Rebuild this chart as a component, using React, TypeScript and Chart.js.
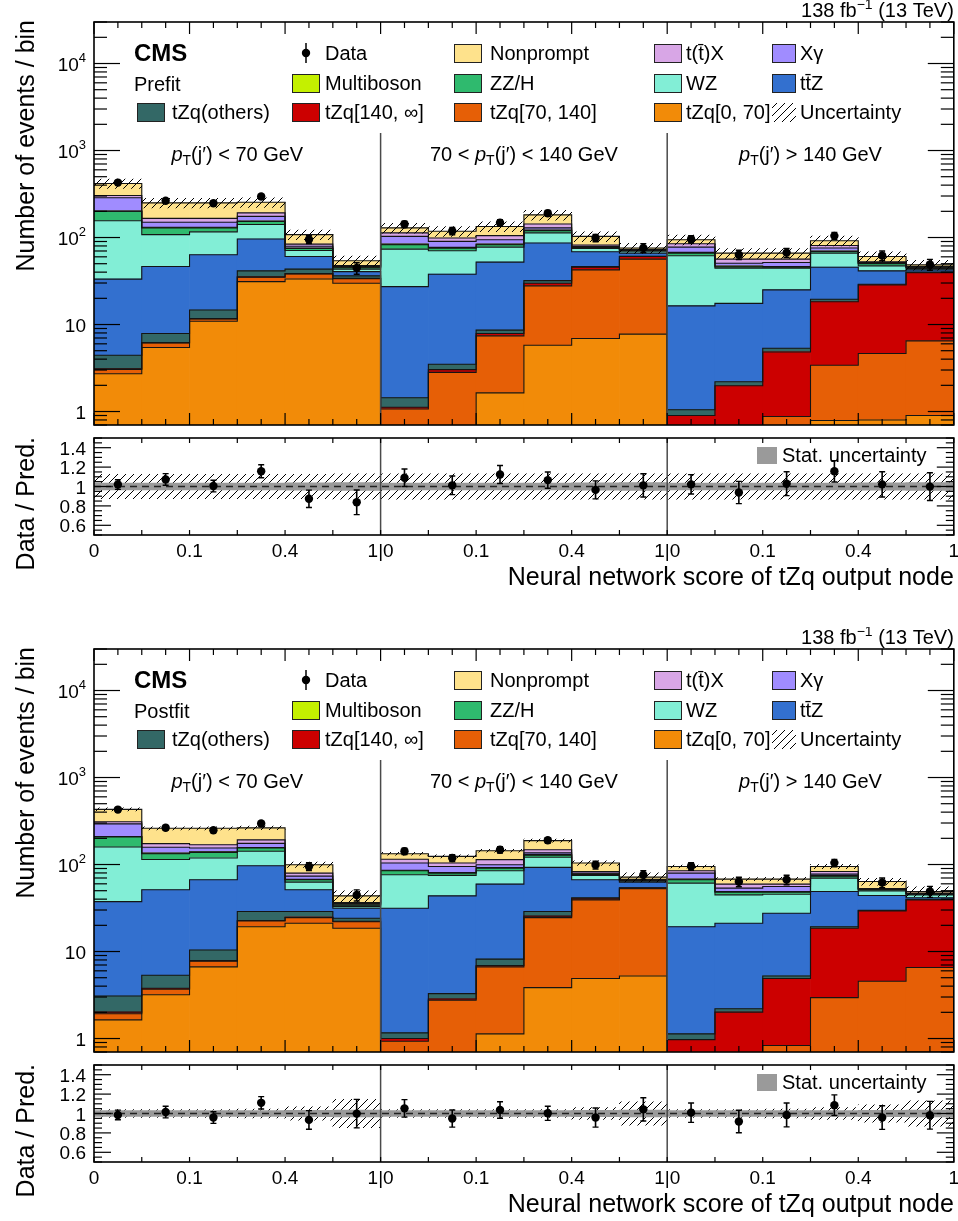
import React, { useEffect, useRef } from 'react';
import { Chart, registerables } from 'chart.js';

Chart.register(...registerables);

const FONT = '"Liberation Sans", Arial, Helvetica, sans-serif';
Chart.defaults.font.family = FONT;

// ---------------- data ----------------
const binCenters = [0.5, 1.5, 2.5, 3.5, 4.5, 5.5, 6.5, 7.5, 8.5, 9.5, 10.5, 11.5, 12.5, 13.5, 14.5, 15.5, 16.5, 17.5];
const binLowEdges = [0, 1, 2, 3, 4, 5, 6, 7, 8, 9, 10, 11, 12, 13, 14, 15, 16, 17];
const lastEdge = 18;
const regionEdges = [6, 12];
const regionCenters = [3, 9, 15];
const xTickPositions = [0, 2, 4, 6, 8, 10, 12, 14, 16, 18];
const xTickLabels = ['0', '0.1', '0.4', '1|0', '0.1', '0.4', '1|0', '0.1', '0.4', '1'];
const logTickExponents = [0, 1, 2, 3, 4];
const ratioTickValues = [0.6, 0.8, 1, 1.2, 1.4];
const ratioTickLabels = ['0.6', '0.8', '1', '1.2', '1.4'];

const processNames = ['tZq[0, 70]', 'tZq[70, 140]', 'tZq[140, \u221e]', 'tZq(others)', 'tt\u0304Z', 'WZ', 'ZZ/H', 'Multiboson', 'X\u03b3', 't(t\u0304)X', 'Nonprompt'];
const processColors = ['#f28b08', '#e65f06', '#cc0000', '#336866', '#3370cf', '#82eed6', '#2fba6e', '#c4f000', '#a08cff', '#d8a6e6', '#fee28c'];

const dataCounts = [428, 265, 248, 296, 95, 44.6, 142, 119, 148, 190, 99, 76, 95.5, 63.5, 67, 104.5, 62, 49];

// prefit
const preTZq0 = [2.72, 5.44, 10.9, 31.1, 33.4, 29.8, 0.45, 0.4, 1.64, 5.78, 6.9, 7.75, 0.15, 0.2, 0.3, 0.79, 0.8, 0.9];
const preTZq70 = [0.33, 0.71, 0.7, 3.9, 4.8, 3.9, 0.62, 2.42, 5.77, 22, 35.6, 48.75, 0.3, 0.2, 0.575, 2.61, 3.84, 5.59];
const preTZq140 = [0.05, 0.05, 0.1, 0.3, 0.3, 0.3, 0.05, 0.21, 0.48, 2, 3.1, 4, 0.45, 1.58, 3.965, 14.9, 23.86, 33.01];
const preOthers = [1.33, 1.69, 3.0, 6.1, 4.8, 2.2, 0.32, 0.46, 0.72, 2.2, 0.7, 0.5, 0.15, 0.22, 0.5, 1.2, 0.5, 0.5];
const preTTZ = [28.8, 38.5, 48.6, 54.6, 17.2, 4.4, 25.8, 34.4, 43.5, 54.4, 22.2, 5.2, 15.35, 15.3, 19.66, 26.1, 12.4, 2.5];
const preWZ = [122.8, 61.6, 52.7, 45, 10.5, 2.7, 46.4, 32.5, 25.5, 26.6, 6.3, 3.3, 45.2, 27, 19.5, 20.6, 5.8, 1.4];
const preZZH = [44, 21, 13, 12, 3.8, 1.7, 9, 5.2, 5, 7, 1.7, 1.5, 4.6, 1.5, 1.1, 3, 2.8, 1.1];
const preMulti = [1, 2, 2, 2, 0.7, 0.5, 1.4, 1.4, 1.4, 2, 0.5, 0.5, 1.3, 1, 0.9, 0.8, 0.5, 0.5];
const preXg = [85, 19, 19, 20, 4, 1, 19, 13.2, 10.4, 7, 2, 0.7, 10.1, 3.7, 5.1, 5.7, 1, 0.5];
const preTX = [18, 16, 16, 17, 4.5, 1, 10, 8.5, 10.6, 14, 3, 0.8, 7.2, 5.7, 4.8, 5.3, 1, 0.5];
const preNP = [114, 84, 84, 62, 24, 6.5, 16, 19.3, 29, 39, 21, 2.7, 9.6, 9.8, 9.8, 10.8, 8, 2];

// postfit
const postTZq0 = [1.64, 3.19, 6.66, 19.3, 21.1, 18.5, 0.45, 0.4, 1.13, 3.85, 4.89, 5.24, 0.15, 0.2, 0.3, 0.5, 0.6, 0.7];
const postTZq70 = [0.29, 0.49, 1.09, 3.1, 3.4, 3.5, 0.48, 2.35, 5.53, 20.65, 34.3, 47.36, 0.25, 0.2, 0.53, 2.45, 3.95, 5.85];
const postTZq140 = [0.08, 0.1, 0.1, 0.3, 0.3, 0.3, 0.07, 0.1, 0.24, 1, 1.3, 0.9, 0.57, 1.61, 4.06, 15.55, 24.75, 32.65];
const postOthers = [1.07, 1.56, 2.55, 6.1, 4, 1.8, 0.16, 0.43, 1.27, 3.3, 1, 0.5, 0.16, 0.19, 0.35, 0.8, 0.5, 0.5];
const postTTZ = [34.4, 45.9, 56.3, 68.1, 22.4, 7.3, 30.24, 40.3, 51.3, 63.8, 25.2, 8.7, 18.17, 18.9, 22.26, 29.7, 14.2, 1.8];
const postWZ = [121.5, 62.8, 52.3, 45.1, 11.5, 1.4, 44.8, 31.4, 25.3, 28.4, 8.3, 1.8, 41.8, 23.7, 18.1, 20.8, 5.8, 3.3];
const postZZH = [49, 19, 19, 13, 4, 1.2, 8.6, 4.7, 6.2, 7, 2, 1, 5.6, 3.3, 2.5, 3.8, 1.7, 0.7];
const postMulti = [2, 2, 2, 2, 0.8, 0.5, 1.2, 1.3, 1.5, 2, 1, 0.5, 1.3, 0.9, 0.9, 0.9, 0.5, 0.5];
const postXg = [83, 23, 15, 18, 6.1, 1, 18, 14, 7, 6, 2, 0.5, 11.7, 4.5, 6.9, 3.1, 0.5, 0.5];
const postTX = [17, 16, 14, 17, 6.1, 1, 11, 9, 14.5, 12, 3, 1, 5.1, 6, 3.6, 5.6, 0.5, 0.5];
const postNP = [120, 87, 92, 72, 19.8, 7.1, 18, 20, 30, 40, 21, 4.1, 10.2, 8.5, 8.5, 11.8, 10.8, 2];

// ratio panels
const ratioPre = [1.02, 1.073, 1.005, 1.157, 0.873, 0.837, 1.09, 1.012, 1.124, 1.066, 0.965, 1.012, 1.022, 0.938, 1.029, 1.157, 1.022, 0.999];
const ratioErrPre = [0.05, 0.06, 0.06, 0.067, 0.09, 0.127, 0.09, 0.096, 0.093, 0.084, 0.093, 0.12, 0.1, 0.115, 0.123, 0.11, 0.13, 0.143];
const systPre = [0.125, 0.125, 0.125, 0.125, 0.125, 0.13, 0.13, 0.13, 0.13, 0.13, 0.13, 0.13, 0.13, 0.13, 0.13, 0.13, 0.13, 0.13];
const statPre = [0.035, 0.035, 0.035, 0.035, 0.037, 0.04, 0.035, 0.035, 0.035, 0.035, 0.037, 0.04, 0.035, 0.035, 0.035, 0.035, 0.037, 0.04];

const ratioPost = [0.985, 1.015, 0.958, 1.11, 0.934, 0.999, 1.053, 0.948, 1.036, 1.002, 0.958, 1.043, 1.009, 0.918, 0.985, 1.086, 0.958, 0.982];
const ratioErrPost = [0.05, 0.06, 0.06, 0.064, 0.096, 0.147, 0.09, 0.088, 0.085, 0.073, 0.098, 0.12, 0.1, 0.116, 0.123, 0.106, 0.122, 0.143];
const systPost = [0.04, 0.04, 0.04, 0.045, 0.07, 0.145, 0.04, 0.04, 0.04, 0.04, 0.06, 0.12, 0.04, 0.04, 0.045, 0.06, 0.09, 0.13];
const statPost = [0.03, 0.03, 0.03, 0.03, 0.033, 0.036, 0.03, 0.03, 0.03, 0.03, 0.033, 0.036, 0.03, 0.03, 0.03, 0.03, 0.033, 0.036];

const yMin = 0.7;
const yMax = 30000;
const rMin = 0.5;
const rMax = 1.5;

// legend layout: [column, process index or special]
const legendRows: any[] = [
  [{ col: 1, kind: 'data', label: 'Data' }, { col: 2, proc: 10 }, { col: 3, proc: 9 }, { col: 4, proc: 8 }],
  [{ col: 1, proc: 7 }, { col: 2, proc: 6 }, { col: 3, proc: 5 }, { col: 4, proc: 4 }],
  [{ col: 0, proc: 3 }, { col: 1, proc: 2 }, { col: 2, proc: 1 }, { col: 3, proc: 0 }, { col: 4, kind: 'unc', label: 'Uncertainty' }],
];
const legendBoxX = [137, 292, 454, 654, 772];
const legendBoxW = [28, 28, 28, 28, 24];
const legendTextX = [172, 325, 490, 686, 800];
const legendRowY = [53, 83, 112];

// ---------------- helpers ----------------
function makeHatch(ctx: CanvasRenderingContext2D) {
  const c = document.createElement('canvas');
  c.width = 8;
  c.height = 8;
  const g = c.getContext('2d') as CanvasRenderingContext2D;
  g.strokeStyle = '#000';
  g.lineWidth = 1;
  g.beginPath();
  g.moveTo(0, 8); g.lineTo(8, 0);
  g.moveTo(-1, 1); g.lineTo(1, -1);
  g.moveTo(7, 9); g.lineTo(9, 7);
  g.stroke();
  return ctx.createPattern(c, 'repeat') as CanvasPattern;
}

function seg(ctx: CanvasRenderingContext2D, x1: number, y1: number, x2: number, y2: number) {
  ctx.beginPath();
  ctx.moveTo(x1, y1);
  ctx.lineTo(x2, y2);
  ctx.stroke();
}

type Seg = { t: string; size: number; italic?: boolean; bold?: boolean; dy?: number };
function fontOf(s: Seg) {
  return `${s.italic ? 'italic ' : ''}${s.bold ? 'bold ' : ''}${s.size}px ${FONT}`;
}
function drawRich(ctx: CanvasRenderingContext2D, segs: Seg[], x: number, y: number, align: string) {
  const widths = segs.map((s) => { ctx.font = fontOf(s); return ctx.measureText(s.t).width; });
  const total = widths.reduce((a, b) => a + b, 0);
  let cx = align === 'left' ? x : align === 'center' ? x - total / 2 : x - total;
  ctx.textAlign = 'left';
  ctx.textBaseline = 'alphabetic';
  segs.forEach((s, i) => {
    ctx.font = fontOf(s);
    ctx.fillText(s.t, cx, y + (s.dy || 0));
    cx += widths[i];
  });
}

function drawCaps(chart: any, idx: number) {
  const { ctx, chartArea: a } = chart;
  const meta = chart.getDatasetMeta(idx);
  ctx.save();
  ctx.beginPath();
  ctx.rect(a.left, a.top, a.right - a.left, a.bottom - a.top);
  ctx.clip();
  ctx.strokeStyle = '#000';
  ctx.lineWidth = 1.4;
  meta.data.forEach((el: any) => {
    seg(ctx, el.x - 3, el.y, el.x + 3, el.y);
    seg(ctx, el.x - 3, el.base, el.x + 3, el.base);
  });
  ctx.restore();
}

const regionText: Seg[][] = [
  [{ t: 'p', size: 20, italic: true }, { t: 'T', size: 14, dy: 4 }, { t: '(j\u2032) < 70 GeV', size: 20 }],
  [{ t: '70 < ', size: 20 }, { t: 'p', size: 20, italic: true }, { t: 'T', size: 14, dy: 4 }, { t: '(j\u2032) < 140 GeV', size: 20 }],
  [{ t: 'p', size: 20, italic: true }, { t: 'T', size: 14, dy: 4 }, { t: '(j\u2032) > 140 GeV', size: 20 }],
];

// ---------------- main panel ----------------
function buildMain(canvas: HTMLCanvasElement, comps: number[][], ratio: number[], ratioErr: number[], syst: number[], fitLabel: string) {
  const ctx = canvas.getContext('2d') as CanvasRenderingContext2D;
  const hatch = makeHatch(ctx);
  const cum: number[][] = [];
  comps.forEach((c, k) => cum.push(c.map((v, i) => v + (k > 0 ? cum[k - 1][i] : 0))));
  const total = cum[cum.length - 1];
  const datasets: any[] = [];
  comps.forEach((c, k) => datasets.push({
    type: 'bar', label: processNames[k],
    data: c.map((v, i) => ({ x: binCenters[i], y: v })),
    backgroundColor: processColors[k], borderWidth: 0, yAxisID: 'y', grouped: false,
    barPercentage: 1, categoryPercentage: 1, order: 20,
  }));
  cum.forEach((c) => datasets.push({
    type: 'line',
    data: c.map((v, i) => ({ x: binLowEdges[i], y: v })).concat([{ x: lastEdge, y: c[c.length - 1] }]),
    stepped: 'before', borderColor: '#141414', borderWidth: 1.1, pointRadius: 0, fill: false,
    yAxisID: 'yL', order: 10,
  }));
  datasets.push({
    type: 'bar',
    data: total.map((t, i) => ({ x: binCenters[i], y: [t * (1 - syst[i]), t * (1 + syst[i])] })),
    backgroundColor: hatch, borderWidth: 0, yAxisID: 'yL', grouped: false,
    barPercentage: 1, categoryPercentage: 1, order: 5,
  });
  const errIdx = datasets.length;
  datasets.push({
    type: 'bar',
    data: dataCounts.map((d, i) => { const e = (d * ratioErr[i]) / ratio[i]; return { x: binCenters[i], y: [d - e, d + e] }; }),
    backgroundColor: '#000', borderWidth: 0, maxBarThickness: 1.6, yAxisID: 'yL', grouped: false, order: 2,
  });
  datasets.push({
    type: 'line',
    data: dataCounts.map((d, i) => ({ x: binCenters[i], y: d })),
    showLine: false, pointRadius: 4.2, pointBackgroundColor: '#000', pointBorderWidth: 0,
    yAxisID: 'yL', order: 1,
  });

  const decor = {
    id: 'mainDecor',
    afterDatasetsDraw(chart: any) {
      const { ctx: c, chartArea: a } = chart;
      const xs = chart.scales.x;
      const ys = chart.scales.y;
      drawCaps(chart, errIdx);
      c.save();
      // region dividers
      c.strokeStyle = '#4a4a4a';
      c.lineWidth = 1.5;
      regionEdges.forEach((b) => { const px = xs.getPixelForValue(b); seg(c, px, a.top + 111, px, a.bottom); });
      // frame
      c.strokeStyle = '#000';
      c.lineWidth = 1.6;
      c.strokeRect(a.left, a.top, a.right - a.left, a.bottom - a.top);
      // y ticks
      c.lineWidth = 1.2;
      for (let e = -1; e <= 4; e++) {
        for (let m = 1; m <= 9; m++) {
          const v = m * Math.pow(10, e);
          if (v < ys.min || v > ys.max) continue;
          const py = ys.getPixelForValue(v);
          const len = m === 1 ? 26 : 13;
          seg(c, a.left, py, a.left + len, py);
          seg(c, a.right, py, a.right - len, py);
        }
      }
      // x ticks
      for (let i = 0; i <= 36; i++) {
        const px = xs.getPixelForValue(i / 2);
        const len = i % 4 === 0 ? 12 : 6;
        seg(c, px, a.bottom, px, a.bottom - len);
        seg(c, px, a.top, px, a.top + len);
      }
      c.fillStyle = '#000';
      // y labels
      logTickExponents.forEach((e) => {
        const py = ys.getPixelForValue(Math.pow(10, e));
        const rx = a.left - 8;
        if (e < 2) {
          drawRich(c, [{ t: e === 0 ? '1' : '10', size: 19 }], rx, py + 7, 'right');
        } else {
          drawRich(c, [{ t: '10', size: 19 }, { t: String(e), size: 13, dy: -9 }], rx, py + 7, 'right');
        }
      });
      // y title
      c.save();
      c.translate(27, a.top - 2);
      c.rotate(-Math.PI / 2);
      c.font = `25px ${FONT}`;
      c.textAlign = 'right';
      c.textBaseline = 'middle';
      c.fillText('Number of events / bin', 0, 0);
      c.restore();
      // lumi
      drawRich(c, [{ t: '138 fb', size: 20 }, { t: '\u22121', size: 14, dy: -8 }, { t: ' (13 TeV)', size: 20 }], a.right, 17, 'right');
      // CMS + fit label
      drawRich(c, [{ t: 'CMS', size: 24, bold: true }], 134, 61, 'left');
      drawRich(c, [{ t: fitLabel, size: 20 }], 134, 91, 'left');
      // region labels
      regionCenters.forEach((rc, r) => drawRich(c, regionText[r], xs.getPixelForValue(rc), a.top + 139, 'center'));
      // legend
      legendRows.forEach((row: any[], ri: number) => {
        const cy = legendRowY[ri];
        row.forEach((it: any) => {
          const bx = legendBoxX[it.col];
          const bw = legendBoxW[it.col];
          const label = it.label || processNames[it.proc];
          if (it.kind === 'data') {
            c.fillStyle = '#000';
            c.strokeStyle = '#000';
            c.lineWidth = 1.5;
            seg(c, bx + 14, cy - 10, bx + 14, cy + 10);
            c.beginPath();
            c.arc(bx + 14, cy, 4.2, 0, Math.PI * 2);
            c.fill();
          } else if (it.kind === 'unc') {
            c.fillStyle = hatch;
            c.fillRect(bx, cy - 9, bw, 19);
          } else {
            c.fillStyle = processColors[it.proc];
            c.fillRect(bx, cy - 9, bw, 19);
            c.strokeStyle = '#222';
            c.lineWidth = 1;
            c.strokeRect(bx + 0.5, cy - 8.5, bw - 1, 18);
          }
          c.fillStyle = '#000';
          drawRich(c, [{ t: label, size: 20 }], legendTextX[it.col], cy + 7, 'left');
        });
      });
      c.restore();
    },
  };

  return new Chart(ctx, {
    type: 'bar',
    data: { datasets },
    options: {
      responsive: false,
      animation: false,
      devicePixelRatio: 1,
      events: [],
      layout: { padding: { left: 94, right: 2, top: 22, bottom: 7 } },
      plugins: { legend: { display: false }, tooltip: { enabled: false } },
      scales: {
        x: { type: 'linear', min: 0, max: 18, offset: false, display: false, ticks: { stepSize: 1 } },
        y: { type: 'logarithmic', min: yMin, max: yMax, stacked: true, display: false },
        yL: { type: 'logarithmic', min: yMin, max: yMax, stacked: false, display: false },
      },
    } as any,
    plugins: [decor],
  } as any);
}

// ---------------- ratio panel ----------------
function buildRatio(canvas: HTMLCanvasElement, ratio: number[], ratioErr: number[], syst: number[], stat: number[]) {
  const ctx = canvas.getContext('2d') as CanvasRenderingContext2D;
  const hatch = makeHatch(ctx);
  const datasets: any[] = [];
  datasets.push({
    type: 'bar', data: syst.map((u, i) => ({ x: binCenters[i], y: [1 - u, 1 + u] })),
    backgroundColor: hatch, borderWidth: 0, grouped: false, barPercentage: 1, categoryPercentage: 1, order: 6,
  });
  datasets.push({
    type: 'bar', data: stat.map((u, i) => ({ x: binCenters[i], y: [1 - u, 1 + u] })),
    backgroundColor: '#9a9a9a', borderWidth: 0, grouped: false, barPercentage: 1, categoryPercentage: 1, order: 5,
  });
  datasets.push({
    type: 'line', data: [{ x: 0, y: 1 }, { x: lastEdge, y: 1 }],
    borderColor: '#222', borderWidth: 1.6, borderDash: [7, 5], pointRadius: 0, fill: false, order: 4,
  });
  const errIdx = datasets.length;
  datasets.push({
    type: 'bar', data: ratio.map((r, i) => ({ x: binCenters[i], y: [r - ratioErr[i], r + ratioErr[i]] })),
    backgroundColor: '#000', borderWidth: 0, maxBarThickness: 1.6, grouped: false, order: 2,
  });
  datasets.push({
    type: 'line', data: ratio.map((r, i) => ({ x: binCenters[i], y: r })),
    showLine: false, pointRadius: 4.2, pointBackgroundColor: '#000', pointBorderWidth: 0, order: 1,
  });

  const decor = {
    id: 'ratioDecor',
    afterDatasetsDraw(chart: any) {
      const { ctx: c, chartArea: a } = chart;
      const xs = chart.scales.x;
      const ys = chart.scales.y;
      drawCaps(chart, errIdx);
      c.save();
      c.strokeStyle = '#4a4a4a';
      c.lineWidth = 1.5;
      regionEdges.forEach((b) => { const px = xs.getPixelForValue(b); seg(c, px, a.top, px, a.bottom); });
      c.strokeStyle = '#000';
      c.lineWidth = 1.6;
      c.strokeRect(a.left, a.top, a.right - a.left, a.bottom - a.top);
      c.lineWidth = 1.2;
      for (let k = 10; k <= 30; k++) {
        const v = k * 0.05;
        const py = ys.getPixelForValue(v);
        const len = k % 4 === 0 ? 17 : 8;
        seg(c, a.left, py, a.left + len, py);
        seg(c, a.right, py, a.right - len, py);
      }
      for (let i = 0; i <= 18; i++) {
        const px = xs.getPixelForValue(i);
        seg(c, px, a.bottom, px, a.bottom - 5);
        seg(c, px, a.top, px, a.top + 5);
      }
      c.fillStyle = '#000';
      ratioTickValues.forEach((v, i) => drawRich(c, [{ t: ratioTickLabels[i], size: 19 }], a.left - 8, ys.getPixelForValue(v) + 7, 'right'));
      xTickPositions.forEach((p, i) => drawRich(c, [{ t: xTickLabels[i], size: 19 }], xs.getPixelForValue(p), a.bottom + 22, 'center'));
      // titles
      c.save();
      c.translate(27, a.top - 1);
      c.rotate(-Math.PI / 2);
      c.font = `25px ${FONT}`;
      c.textAlign = 'right';
      c.textBaseline = 'middle';
      c.fillText('Data / Pred.', 0, 0);
      c.restore();
      drawRich(c, [{ t: 'Neural network score of tZq output node', size: 25 }], a.right, a.bottom + 50, 'right');
      // stat legend
      c.fillStyle = '#9a9a9a';
      c.fillRect(757, a.top + 9, 20, 17);
      c.fillStyle = '#000';
      drawRich(c, [{ t: 'Stat. uncertainty', size: 20 }], 782, a.top + 24, 'left');
      c.restore();
    },
  };

  return new Chart(ctx, {
    type: 'bar',
    data: { datasets },
    options: {
      responsive: false,
      animation: false,
      devicePixelRatio: 1,
      events: [],
      layout: { padding: { left: 94, right: 2, top: 6, bottom: 57 } },
      plugins: { legend: { display: false }, tooltip: { enabled: false } },
      scales: {
        x: { type: 'linear', min: 0, max: 18, offset: false, display: false, ticks: { stepSize: 1 } },
        y: { type: 'linear', min: rMin, max: rMax, display: false },
      },
    } as any,
    plugins: [decor],
  } as any);
}

// ---------------- components ----------------
function Group(props: { top: number; comps: number[][]; ratio: number[]; ratioErr: number[]; syst: number[]; stat: number[]; fitLabel: string }) {
  const mainRef = useRef<HTMLCanvasElement>(null);
  const ratioRef = useRef<HTMLCanvasElement>(null);
  useEffect(() => {
    const c1 = buildMain(mainRef.current as HTMLCanvasElement, props.comps, props.ratio, props.ratioErr, props.syst, props.fitLabel);
    const c2 = buildRatio(ratioRef.current as HTMLCanvasElement, props.ratio, props.ratioErr, props.syst, props.stat);
    return () => { c1.destroy(); c2.destroy(); };
  }, []);
  return (
    <>
      <canvas ref={mainRef} width={958} height={432} style={{ position: 'absolute', left: 0, top: props.top, width: 958, height: 432 }} />
      <canvas ref={ratioRef} width={958} height={160} style={{ position: 'absolute', left: 0, top: props.top + 432, width: 958, height: 160 }} />
    </>
  );
}

export default function App() {
  const preComps = [preTZq0, preTZq70, preTZq140, preOthers, preTTZ, preWZ, preZZH, preMulti, preXg, preTX, preNP];
  const postComps = [postTZq0, postTZq70, postTZq140, postOthers, postTTZ, postWZ, postZZH, postMulti, postXg, postTX, postNP];
  return (
    <div style={{ position: 'absolute', left: 0, top: 0, width: 958, height: 1221, overflow: 'hidden', background: '#fff' }}>
      <Group top={0} comps={preComps} ratio={ratioPre} ratioErr={ratioErrPre} syst={systPre} stat={statPre} fitLabel="Prefit" />
      <Group top={627} comps={postComps} ratio={ratioPost} ratioErr={ratioErrPost} syst={systPost} stat={statPost} fitLabel="Postfit" />
    </div>
  );
}
